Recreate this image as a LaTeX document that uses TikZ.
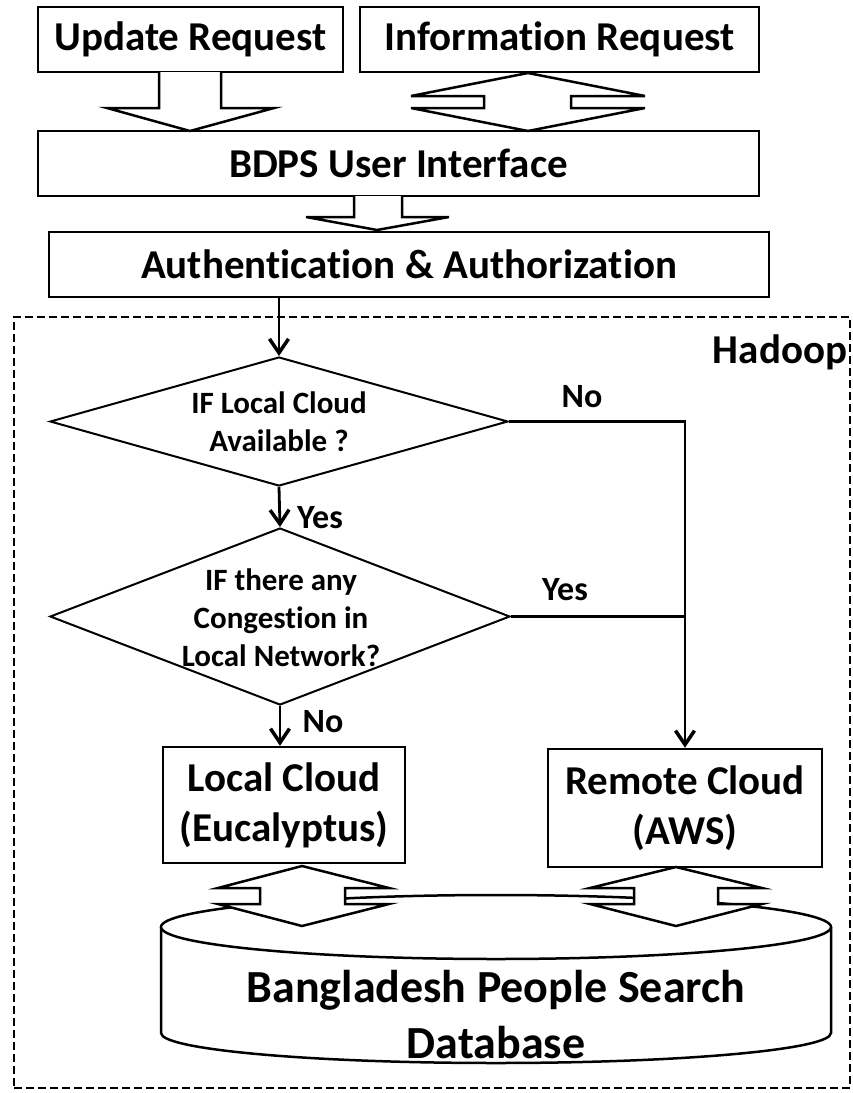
\documentclass[tikz,border=0pt]{standalone}
\usepackage{fontspec}
\setmainfont{Carlito}[Ligatures={NoCommon,NoContextual}, Contextuals=NoAlternate]
\usetikzlibrary{shapes.geometric,arrows.meta}
\newcommand{\fBig}{\fontsize{41}{50}\selectfont\bfseries}
\newcommand{\fDia}{\fontsize{31}{38}\selectfont\bfseries}
\newcommand{\fLab}{\fontsize{34}{40}\selectfont\bfseries}
\newcommand{\fDb}{\fontsize{46}{56}\selectfont\bfseries}
\newcommand{\myti}{t\kern0pt i}
\begin{document}
\begin{tikzpicture}[x=1pt,y=-1pt,
  box/.style={draw, line width=2.5pt, inner sep=0pt, align=center, font=\fBig},
  dia/.style={draw, shape=diamond, line width=2pt, inner sep=0pt},
  diatext/.style={align=center, font=\fDia, inner sep=0pt},
  lab/.style={font=\fLab, inner sep=0pt},
  flow/.style={line width=2.8pt, -{Straight Barb[length=14pt,width=19pt,line width=3.5pt]}},
  flowline/.style={line width=2.8pt},
  hollow/.style={draw, line width=2.5pt, fill=white, line join=miter},
  frame/.style={draw, line width=2.5pt, dash pattern=on 8pt off 4pt, inner sep=0pt}]
\useasboundingbox (0,0) rectangle (853,1093);
% top boxes
\node[box, minimum width=305pt, minimum height=65pt] (upd) at (190.5,39.5) {Update Request};
\node[box, minimum width=399pt, minimum height=65pt] (info) at (559.5,39.5) {Informa\myti on Request};
\node[box, minimum width=721pt, minimum height=65pt] (ui) at (398.5,163.5) {BDPS User Interface};
\node[box, minimum width=720pt, minimum height=65pt] (auth) at (409,264.5) {Authen\myti ca\myti on \& Authorization};
% hollow arrows
\draw[hollow] (159,72) -- (159,108) -- (107,108) -- (190,131) -- (274,108) -- (221,108) -- (221,72);
\draw[hollow] (528,73) -- (645,96) -- (571,96) -- (571,108) -- (645,108) -- (528,131) -- (411,108) -- (484,108) -- (484,96) -- (411,96) -- cycle;
\draw[hollow] (354,196) -- (354,217) -- (306,217) -- (377,230) -- (449,217) -- (402,217) -- (402,196);
% hadoop frame
\node[frame, minimum width=836pt, minimum height=771pt] (hadoop) at (432,702.5) {};
\node[font=\fBig, inner sep=0pt] (hlab) at (780,352) {Hadoop};
% diamonds
\node[dia, minimum width=458pt, minimum height=129pt] (d1) at (279,421.5) {};
\node[diatext] (d1t) at (d1) {IF Local Cloud\\Available ?};
\node[dia, minimum width=460pt, minimum height=177pt] (d2) at (280,616.5) {};
\node[diatext] (d2t) at (281,617.5) {IF there any\\Conges\myti on in\\Local Network?};
% clouds
\node[box, minimum width=242pt, minimum height=116pt] (local) at (284,805) {Local Cloud\\(Eucalyptus)};
\node[box, minimum width=274pt, minimum height=118pt] (remote) at (685,808) {Remote Cloud\\(AWS)};
% flow connectors
\draw[flow] (auth.south -| d1.north) -- (d1.north);
\draw[flow] (d1.east) -- (d1.east -| remote.north) -- (remote.north);
\draw[flow] (d1.south) -- (d2.north);
\draw[flowline] (d2.east) -- (d2.east -| remote.north);
\draw[flow] (d2.south) -- (d2.south |- local.north);
\node[lab] (l1) at (582,397) {No};
\node[lab] (l2) at (320,518) {Yes};
\node[lab] (l3) at (565,590) {Yes};
\node[lab] (l4) at (323,722) {No};
% database cylinder
\draw[line width=2.5pt, fill=white] (161,927) -- (161,1033) arc[start angle=180, end angle=0, x radius=335, y radius=30] -- (831,927);
\draw[line width=2.5pt, fill=white] (496,927) ellipse[x radius=335, y radius=32];
\node[align=center, font=\fDb, inner sep=0pt] (db) at (496,1015) {Bangladesh People Search\\Database};
% double arrows cloud <-> db
\draw[hollow] (302,866) -- (389,888) -- (345,888) -- (345,904) -- (389,904) -- (302,926) -- (218,904) -- (260,904) -- (260,888) -- (218,888) -- cycle;
\draw[hollow] (676,867) -- (762,888) -- (718,888) -- (718,904) -- (762,904) -- (676,926) -- (590,904) -- (634,904) -- (634,888) -- (590,888) -- cycle;
\end{tikzpicture}
\end{document}
